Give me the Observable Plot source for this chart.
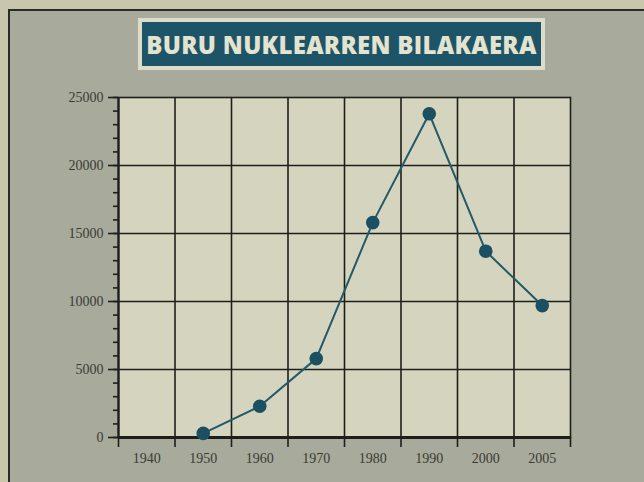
<!DOCTYPE html>
<html><head><meta charset="utf-8">
<script src="https://cdn.jsdelivr.net/npm/d3@7"></script>
<script src="https://cdn.jsdelivr.net/npm/@observablehq/plot@0.6"></script>
<style>
body{margin:0;}
#page{position:relative;width:644px;height:482px;background:#c9c6ae;overflow:hidden;}
#frame{position:absolute;left:8px;top:9px;width:700px;height:520px;background:#a8aa9b;border-left:2px solid #2a2a26;border-top:2px solid #2a2a26;}
#title{position:absolute;left:138px;top:18px;width:399px;height:44px;background:#1d5467;border:4px solid #dcdcc8;color:#e3e3cf;font:800 24px "Open Sans";display:flex;align-items:center;justify-content:center;letter-spacing:0.3px;}
#chart{position:absolute;left:0;top:75px;}
</style></head>
<body>
<div id="page">
  <div id="frame"></div>
  <div id="title">BURU NUKLEARREN BILAKAERA</div>
  <div id="chart"></div>
</div>
<script>
const categories = ["1940","1950","1960","1970","1980","1990","2000","2005"];
const dataYears = ["1950","1960","1970","1980","1990","2000","2005"];
const values = [300, 2300, 5800, 15800, 23800, 13700, 9700];
const yMajor = [0, 5000, 10000, 15000, 20000, 25000];

const data = dataYears.map((y, i) => ({pos: categories.indexOf(y) + 0.5, value: values[i]}));
const ink = "#1e1e1a";

const chart = Plot.plot({
  width: 644, height: 407,
  marginLeft: 118, marginRight: 74, marginTop: 22, marginBottom: 45,
  style: {background: "transparent", fontFamily: "'Liberation Serif', serif", fontSize: "14px", color: "#3a3a34"},
  x: {type: "linear", domain: [0, categories.length], label: null},
  y: {domain: [0, 25000], label: null},
  marks: [
    Plot.frame({fill: "#d4d4bf", stroke: null}),
    Plot.gridX(d3.range(1, categories.length), {stroke: ink, strokeOpacity: 1, strokeWidth: 1.6}),
    Plot.gridY(yMajor.slice(1, -1), {stroke: ink, strokeOpacity: 1, strokeWidth: 1.6}),
    Plot.frame({stroke: ink, strokeWidth: 1.6}),
    Plot.axisY(d3.range(0, 25001, 1000), {tickSize: 5, tickFormat: () => "", stroke: ink, strokeWidth: 1.6, label: null}),
    Plot.axisY(yMajor, {tickSize: 10, tickPadding: 5, tickFormat: d => String(d), stroke: ink, strokeWidth: 1.6, fill: "#3a3a34", fontSize: 14, label: null}),
    Plot.axisX(d3.range(0, categories.length + 1), {tickSize: 10, tickFormat: () => "", stroke: ink, strokeWidth: 1.6, label: null}),
    Plot.axisX(categories.map((c, i) => i + 0.5), {tickSize: 0, tickPadding: 16, tickFormat: d => categories[Math.floor(d)], fill: "#3a3a34", fontSize: 14, label: null}),
    Plot.ruleY([0], {stroke: ink, strokeWidth: 2.8}),
    Plot.ruleX([0], {stroke: ink, strokeWidth: 2.2}),
    Plot.line(data, {x: "pos", y: "value", stroke: "#22596b", strokeWidth: 2}),
    Plot.dot(data, {x: "pos", y: "value", r: 6.8, fill: "#1b5062", stroke: null})
  ]
});
document.getElementById("chart").appendChild(chart);
</script>
</body></html>
